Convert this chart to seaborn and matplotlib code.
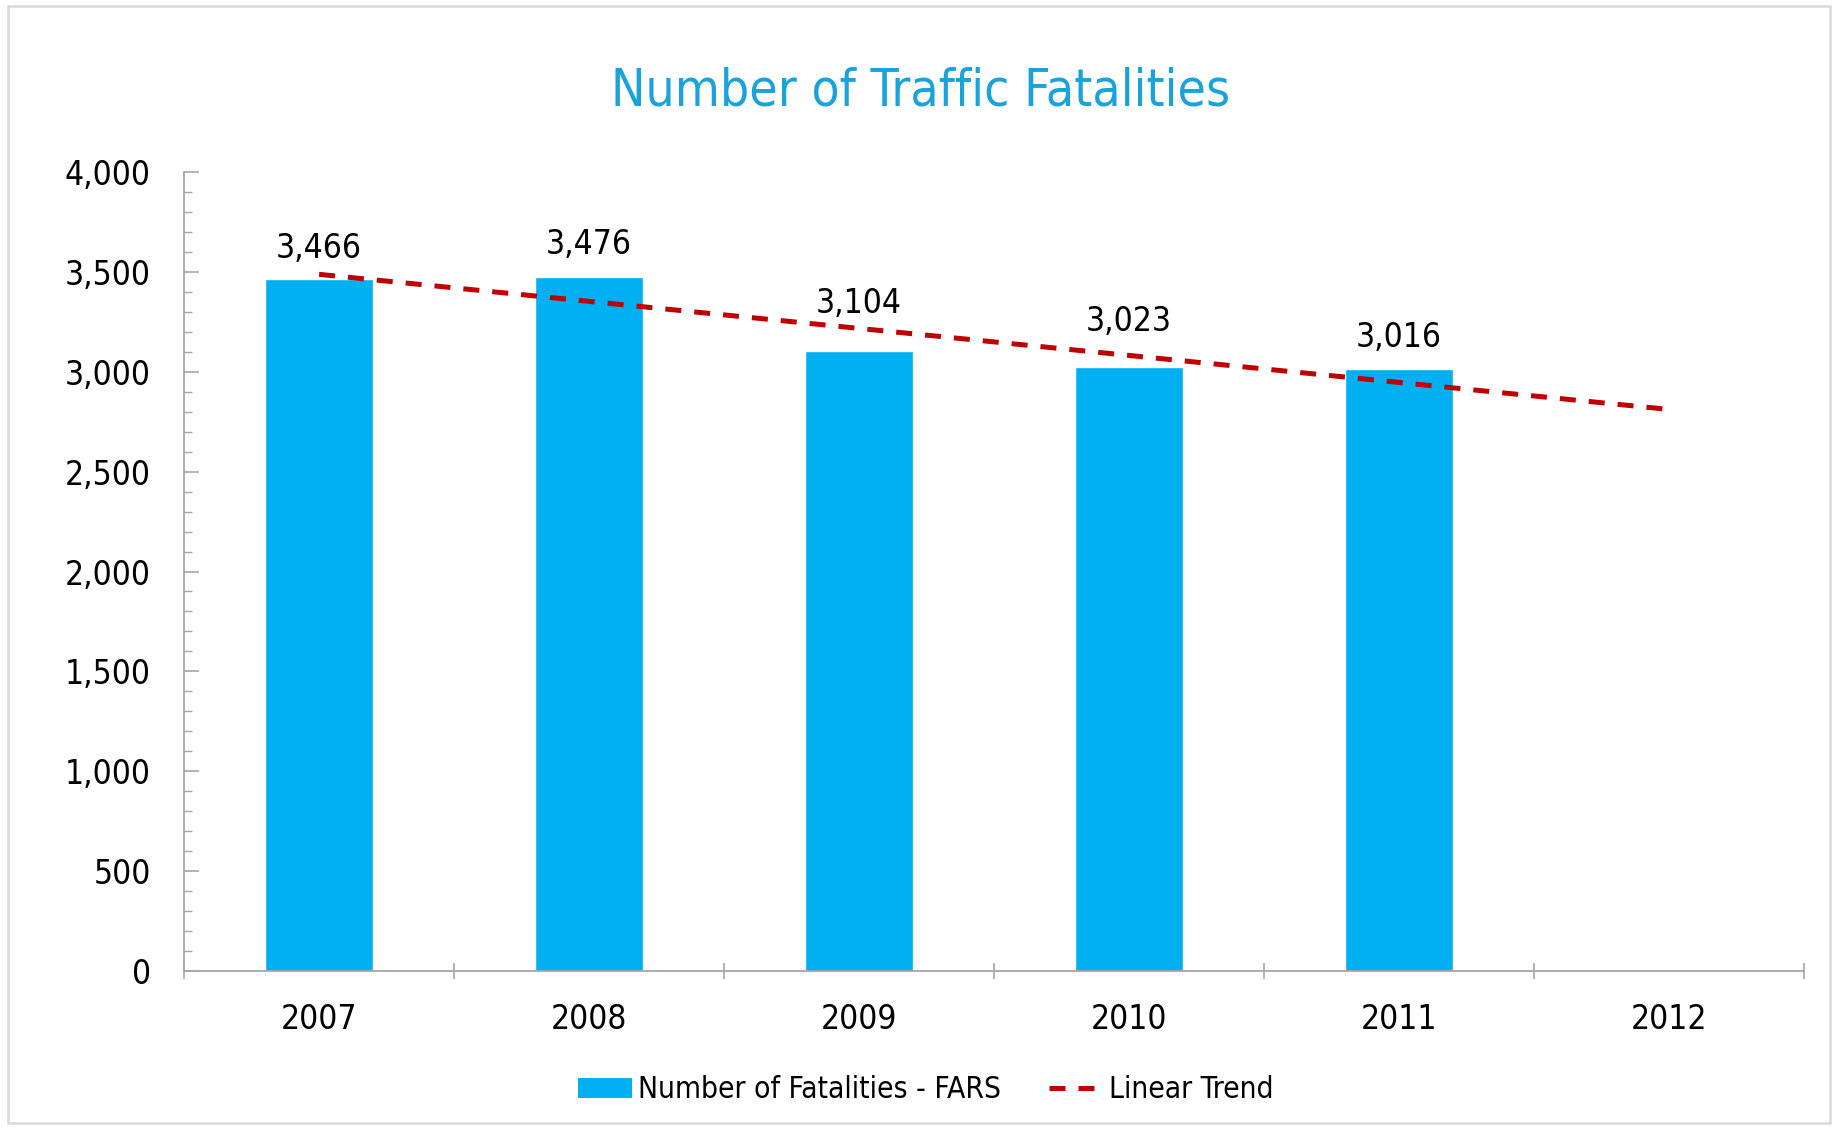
import numpy as np
import pandas as pd
import matplotlib
matplotlib.use("Agg")
import matplotlib.pyplot as plt
import seaborn as sns
from matplotlib.patches import Patch, Rectangle
from matplotlib.lines import Line2D
from matplotlib.ticker import MultipleLocator, FixedLocator, FuncFormatter

# ---- data ----
years = ["2007", "2008", "2009", "2010", "2011"]
all_years = ["2007", "2008", "2009", "2010", "2011", "2012"]
fatalities = [3466, 3476, 3104, 3023, 3016]
title = "Number of Traffic Fatalities"
bar_label = "Number of Fatalities - FARS"
trend_label = "Linear Trend"

# label offsets above bar tops (points) — style only
label_offsets = [22, 23, 34, 33, 22]

bar_color = "#00B0F0"
trend_color = "#C00000"
title_color = "#1AA3DB"
axis_color = "#A6A6A6"

sns.set_theme(style="white")
plt.rcParams["font.family"] = ["DejaVu Sans"]
plt.rcParams["font.stretch"] = "condensed"

fig = plt.figure(figsize=(18.37, 11.27), dpi=100)
ax = fig.add_axes([0.1002, 0.1384, 0.8819, 0.709])

df = pd.DataFrame({"year": years, "value": fatalities})
sns.barplot(data=df, x="year", y="value", order=all_years, color=bar_color,
            saturation=1, width=0.4, ax=ax)

# linear trend
xs = np.arange(len(years))
coef = np.polyfit(xs, fatalities, 1)
xt = np.array([0, len(all_years) - 1])
ax.plot(xt, np.polyval(coef, xt), color=trend_color, lw=3.6,
        linestyle=(0, (3.2, 2.6)), dash_capstyle="butt", zorder=3)

for rect, v, off in zip(ax.containers[0], fatalities, label_offsets):
    ax.annotate(f"{v:,}", (rect.get_x() + rect.get_width() / 2, rect.get_height()),
                xytext=(0, off), textcoords="offset points", ha="center", va="center",
                fontsize=24, color="black")

ax.set_xlim(-0.5, 5.5)
ax.set_ylim(0, 4000)
ax.set_xlabel("")
ax.set_ylabel("")

for s in ["top", "right"]:
    ax.spines[s].set_visible(False)
for s in ["left", "bottom"]:
    ax.spines[s].set_color(axis_color)
    ax.spines[s].set_linewidth(1.3)

ax.yaxis.set_major_locator(MultipleLocator(500))
ax.yaxis.set_minor_locator(MultipleLocator(100))
ax.yaxis.set_major_formatter(FuncFormatter(lambda v, p: f"{int(v):,}"))
ax.tick_params(axis="y", which="major", direction="in", length=10.8, width=1.2,
               color=axis_color, labelsize=24, pad=24, labelcolor="black", left=True)
ax.tick_params(axis="y", which="minor", direction="in", length=5.8, width=1.0,
               color=axis_color, left=True)

ax.xaxis.set_minor_locator(FixedLocator(np.arange(-0.5, 6.0, 1.0)))
ax.tick_params(axis="x", which="major", length=0, labelsize=24, pad=23, labelcolor="black")
ax.tick_params(axis="x", which="minor", direction="inout", length=11, width=1.2,
               color=axis_color, bottom=True)

fig.text(0.501, 0.919, title, ha="center", va="center", fontsize=37, color=title_color)

handles = [Patch(facecolor=bar_color, edgecolor="none", label=bar_label),
           Line2D([0], [0], color=trend_color, lw=3.6, linestyle=(0, (3.2, 2.6)), label=trend_label)]
fig.legend(handles=handles, loc="center", bbox_to_anchor=(0.504, 0.033), ncol=2,
           frameon=False, fontsize=21.5, handlelength=1.8, handleheight=0.65,
           handletextpad=0.2, columnspacing=1.6, labelcolor="black")

fig.patches.append(Rectangle((8 / 1837, 0.0035), (1830 - 8) / 1837, 0.9912,
                             transform=fig.transFigure, fill=False,
                             edgecolor="#D9D9D9", linewidth=1.8, zorder=0))

fig.savefig("out.png", dpi=100)
